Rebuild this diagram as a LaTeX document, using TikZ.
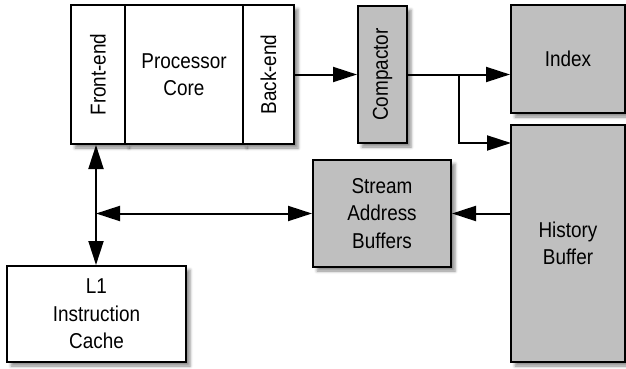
\documentclass[tikz,border=0pt]{standalone}
\usepackage{fontspec}
\setmainfont{Liberation Sans}[FakeStretch=0.88]
\usepackage{tikz}
\usetikzlibrary{arrows.meta,shadows.blur}
\tikzstyle{block}=[draw=black, line width=2pt, fill=white, inner sep=0pt, align=center,
  font=\fontsize{21.5}{27.5}\selectfont,
  blur shadow={shadow xshift=4pt, shadow yshift=-4pt, shadow blur radius=3pt, shadow opacity=45}]
\tikzstyle{grayblock}=[block, fill=black!25]
\tikzstyle{arrow}=[line width=2pt, >={Triangle[length=24pt, width=15pt]}]

\begin{document}
\begin{tikzpicture}[x=1pt, y=-1pt]
		   \useasboundingbox (0, 0) rectangle (626, 369);
		   \begin{scope}
			   \node (fe) at (98, 74.5)[block, minimum width=54pt, minimum height=139pt] {\rotatebox{90}{Front-end}};
			   \node (core) at (184, 74.5)[block, minimum width=118pt, minimum height=139pt] {Processor\\Core};
			   \node (be) at (268.5, 74.5)[block, minimum width=51pt, minimum height=139pt] {\rotatebox{90}{Back-end}};
			   \node (comp) at (382.5, 74.5)[grayblock, minimum width=49pt, minimum height=137pt] {\rotatebox{90}{Compactor}};
			   \node (index) at (568, 59)[grayblock, minimum width=114pt, minimum height=108pt] {Index};
			   \node (hist) at (568, 243.5)[grayblock, minimum width=114pt, minimum height=237pt] {History\\Buffer};
			   \node (sab) at (382, 213.5)[grayblock, minimum width=138pt, minimum height=107pt] {Stream\\Address\\Buffers};
			   \node (l1) at (96.5, 314)[block, minimum width=179pt, minimum height=96pt] {L1\\Instruction\\Cache};

			   \coordinate (split) at (459, 74);
			   \coordinate (histin) at (511, 143);
			   \coordinate (hub) at (96, 213.5);
		   \end{scope}
		   \begin{scope}
			   \path [arrow, ->] (be) edge (comp);
			   \path [arrow, ->] (comp.east) edge (comp.east -| index.west);
			   \path [arrow, ->] (split) edge[to path={|- (\tikztotarget)}] (histin);
			   \path [arrow, ->] (sab.east -| hist.west) edge (sab.east);
			   \path [arrow, <->] (fe.south -| hub) edge (hub |- l1.north);
			   \path [arrow, <->] (hub) edge (sab.west);
		   \end{scope}
	   \end{tikzpicture}
\end{document}
